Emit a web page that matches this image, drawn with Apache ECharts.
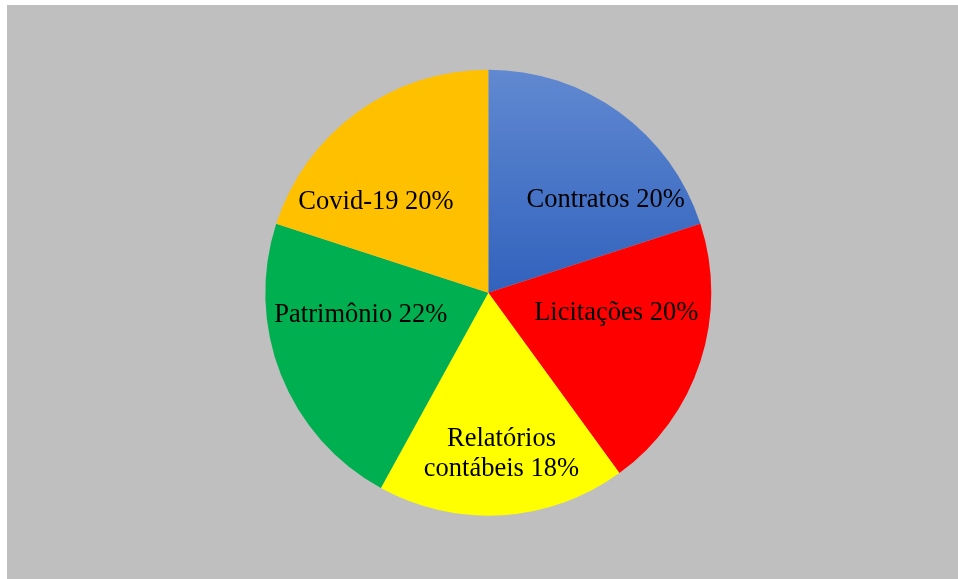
<!DOCTYPE html>
<html>
<head>
<meta charset="utf-8">
<script src="https://cdn.jsdelivr.net/npm/echarts@6/dist/echarts.min.js"></script>
<style>
    html, body { margin: 0; padding: 0; background: #ffffff; }
    #wrap { position: absolute; left: 7px; top: 5px; width: 951px; height: 574px; background: #bfbfbf; }
    #main { position: absolute; left: 0; top: 0; width: 958px; height: 579px; }
</style>
</head>
<body>
<div id="wrap"></div>
<div id="main"></div>
<script>
// dados do gráfico
var categorias = ['Contratos', 'Licitações', 'Relatórios contábeis', 'Patrimônio', 'Covid-19'];
var valores = [20, 20, 18, 22, 20];

// cores das fatias
var cores = [
    { type: 'linear', x: 0, y: 0, x2: 0, y2: 1,
      colorStops: [{ offset: 0, color: '#6189d1' }, { offset: 1, color: '#3162bd' }] },
    '#ff0000', '#ffff00', '#00b050', '#ffc000'
];
// deslocamento dos rótulos (estilo Excel "melhor ajuste")
var desloc = [[50, 0], [19, -15], [6, 47], [-21, -20], [-45, 2]];

var myChart = echarts.init(document.getElementById('main'));
var dados = [];
for (var i = 0; i < categorias.length; i++) {
    dados.push({ name: categorias[i], value: valores[i], itemStyle: { color: cores[i] } });
}
var option = {
    animation: false,
    series: [{
        type: 'pie',
        center: [488.3, 292.7],
        radius: 223,
        startAngle: 90,
        clockwise: true,
        data: dados,
        itemStyle: { borderWidth: 0 },
        emphasis: { disabled: true },
        labelLine: { show: false },
        label: {
            show: true,
            position: 'inside',
            color: '#000000',
            fontFamily: 'Liberation Serif',
            fontSize: 26.5,
            lineHeight: 30,
            align: 'center',
            formatter: function (p) {
                return p.name.replace(' contábeis', '\ncontábeis') + ' ' + Math.round(p.percent) + '%';
            }
        },
        labelLayout: function (p) {
            return { dx: desloc[p.dataIndex][0], dy: desloc[p.dataIndex][1] };
        }
    }]
};
myChart.setOption(option);
window.addEventListener('resize', function () {
    myChart.resize();
});
</script>
</body>
</html>
